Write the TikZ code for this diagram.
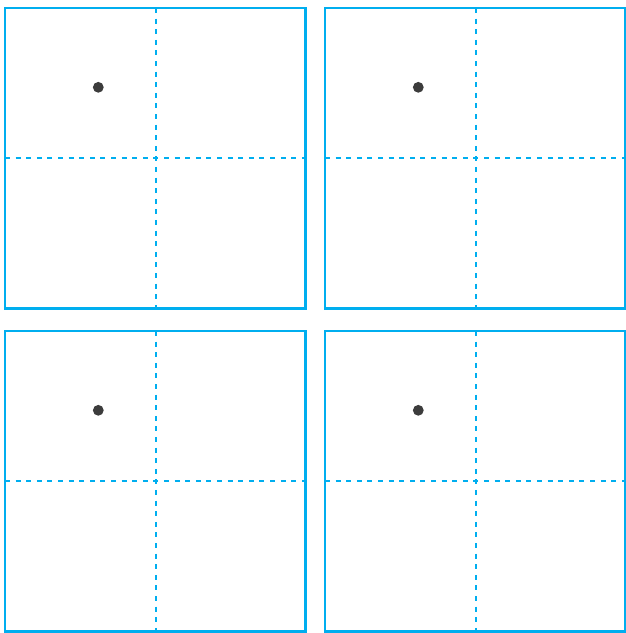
\documentclass[tikz,border=0pt]{standalone}
\definecolor{gridblue}{HTML}{00AEEF}
\definecolor{dotgray}{HTML}{3C3C3C}
\tikzset{
  frame/.style={draw=gridblue, line width=2.4pt},
  guide/.style={draw=gridblue, line width=2pt, dash pattern=on 5pt off 5.6pt},
  spot/.style={fill=dotgray, draw=none}
}
\begin{document}
\begin{tikzpicture}[x=1pt,y=-1pt]
\useasboundingbox (0,0) rectangle (626,633);
\foreach \ox/\oy in {5/8, 325/8, 5/331, 325/331}{
  \begin{scope}[shift={(\ox,\oy)}]
    \draw[guide] (151,0) -- (151,300.5);
    \draw[guide] (0,150) -- (300.5,150);
    \draw[frame] (0,0) rectangle (300.5,300.5);
    \fill[spot] (93.3,79.3) circle (5.4);
  \end{scope}
}
\end{tikzpicture}
\end{document}
